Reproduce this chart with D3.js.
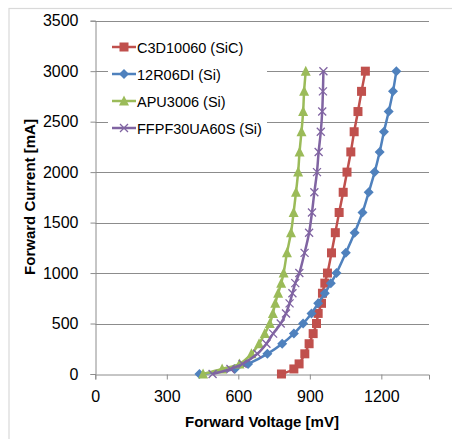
<!DOCTYPE html>
<meta charset="utf-8">
<head>
<style>
    body {margin: 0; background: #fff;}
    text {font-family: "Liberation Sans", Arial, sans-serif;}
</style>
</head>
<body>
<div class="chart"></div>
</body>
<script src="https://d3js.org/d3.v7.min.js"></script>
<script>
// forward current levels [mA]
var current = [0, 50, 100, 200, 300, 400, 500, 600, 700, 800, 900, 1000,
    1200, 1400, 1600, 1800, 2000, 2200, 2400, 2600, 2800, 3000];

// forward voltage [mV] for each current level
var c3d10060 = [781, 833, 855, 879, 897, 914, 928, 935, 949, 953, 963, 974,
    991, 1007, 1023, 1040, 1056, 1072, 1086, 1102, 1117, 1133];
var r12r06di = [437, 585, 641, 722, 784, 833, 872, 907, 935, 963, 988, 1012,
    1051, 1088, 1121, 1147, 1172, 1193, 1211, 1231, 1249, 1263];
var apu3006 = [452, 532, 605, 655, 687, 711, 732, 745, 755, 767, 780, 790,
    804, 821, 832, 842, 851, 857, 865, 872, 876, 883];
var ffpf30ua60s = [492, 567, 618, 680, 718, 746, 778, 800, 815, 827, 839, 856,
    878, 897, 909, 919, 930, 937, 946, 952, 955, 957];

var xTicks = [0, 300, 600, 900, 1200];
var yTicks = [0, 500, 1000, 1500, 2000, 2500, 3000, 3500];

var series = [
    {name: "C3D10060 (SiC)", v: c3d10060, color: "#C0504D", marker: "square"},
    {name: "12R06DI (Si)", v: r12r06di, color: "#4F81BD", marker: "diamond"},
    {name: "APU3006 (Si)", v: apu3006, color: "#9BBB59", marker: "triangle"},
    {name: "FFPF30UA60S (Si)", v: ffpf30ua60s, color: "#8064A2", marker: "cross"}
];

var width = 452, height = 439;
var margin = {left: 95.3, right: 23, top: 20.7, bottom: 65};

var x = d3.scaleLinear().domain([0, 1400]).range([margin.left, width - margin.right]);
var y = d3.scaleLinear().domain([0, 3500]).range([height - margin.bottom, margin.top]);

var svg = d3.select(".chart").append("svg")
    .attr("width", width)
    .attr("height", height);

// outer chart frame (partly cropped)
svg.append("rect")
    .attr("x", 9).attr("y", 8.5)
    .attr("width", 500).attr("height", 500)
    .attr("fill", "none").attr("stroke", "#d9d9d9").attr("stroke-width", 1.2);

var gridCol = "#8c8c8c";

// horizontal gridlines
svg.append("g").selectAll("line").data(yTicks.slice(1)).enter().append("line")
    .attr("x1", x(0)).attr("x2", x(1400))
    .attr("y1", function (d) { return Math.round(y(d)) + 0.5; })
    .attr("y2", function (d) { return Math.round(y(d)) + 0.5; })
    .attr("stroke", gridCol).attr("stroke-width", 1);

// y axis
var yAxis = svg.append("g")
    .attr("transform", "translate(" + (Math.round(x(0)) + 0.5) + ",0)")
    .call(d3.axisLeft(y).tickValues(yTicks).tickFormat(d3.format("d"))
        .tickSize(5).tickPadding(12));
// x axis
var xAxis = svg.append("g")
    .attr("transform", "translate(0," + (Math.round(y(0)) + 0.5) + ")")
    .call(d3.axisBottom(x).tickValues(xTicks).tickFormat(d3.format("d"))
        .tickSize(5).tickPadding(11));

[xAxis, yAxis].forEach(function (a) {
    a.select(".domain").attr("stroke", gridCol);
    a.selectAll(".tick line").attr("stroke", gridCol);
    a.selectAll(".tick text")
        .attr("fill", "#000")
        .style("font-size", "16px")
        .style("font-family", "Liberation Sans, Arial, sans-serif");
});

// axis titles
svg.append("text")
    .attr("x", 262).attr("y", 427)
    .attr("text-anchor", "middle")
    .style("font-size", "15px").style("font-weight", "bold")
    .text("Forward Voltage [mV]");
svg.append("text")
    .attr("transform", "translate(35,197) rotate(-90)")
    .attr("text-anchor", "middle")
    .style("font-size", "15px").style("font-weight", "bold")
    .text("Forward Current [mA]");

function drawMarker(g, type, color) {
    if (type === "square") {
        g.append("rect").attr("x", -4.5).attr("y", -4.5).attr("width", 9).attr("height", 9)
            .attr("fill", color);
    } else if (type === "diamond") {
        g.append("path").attr("d", "M0,-5L5,0L0,5L-5,0Z").attr("fill", color);
    } else if (type === "triangle") {
        g.append("path").attr("d", "M0,-5.5L5,4.5L-5,4.5Z").attr("fill", color);
    } else {
        g.append("path").attr("d", "M-4,-4L4,4M-4,4L4,-4")
            .attr("stroke", color).attr("stroke-width", 1.3).attr("fill", "none");
    }
}

var line = d3.line()
    .x(function (d) { return x(d[0]); })
    .y(function (d) { return y(d[1]); })
    .curve(d3.curveCatmullRom);

series.forEach(function (s) {
    var pts = s.v.map(function (v, i) { return [v, current[i]]; });
    var g = svg.append("g");
    g.append("path")
        .attr("d", line(pts))
        .attr("fill", "none")
        .attr("stroke", s.color)
        .attr("stroke-width", 2.5);
    g.selectAll("g.m").data(pts).enter().append("g")
        .attr("class", "m")
        .attr("transform", function (d) { return "translate(" + x(d[0]) + "," + y(d[1]) + ")"; })
        .each(function () { drawMarker(d3.select(this), s.marker, s.color); });
});

// legend
var legend = svg.append("g");
legend.append("rect")
    .attr("x", 108).attr("y", 31).attr("width", 159).attr("height", 108)
    .attr("fill", "#fff");
series.forEach(function (s, i) {
    var ly = 47 + i * 27;
    var item = legend.append("g").attr("transform", "translate(0," + ly + ")");
    item.append("line").attr("x1", 112).attr("x2", 136).attr("y1", 0).attr("y2", 0)
        .attr("stroke", s.color).attr("stroke-width", 2.5);
    var m = item.append("g").attr("transform", "translate(124,0)");
    drawMarker(m, s.marker, s.color);
    item.append("text")
        .attr("x", 137).attr("y", 5.5)
        .style("font-size", "14.5px")
        .text(s.name);
});
</script>
</body>
